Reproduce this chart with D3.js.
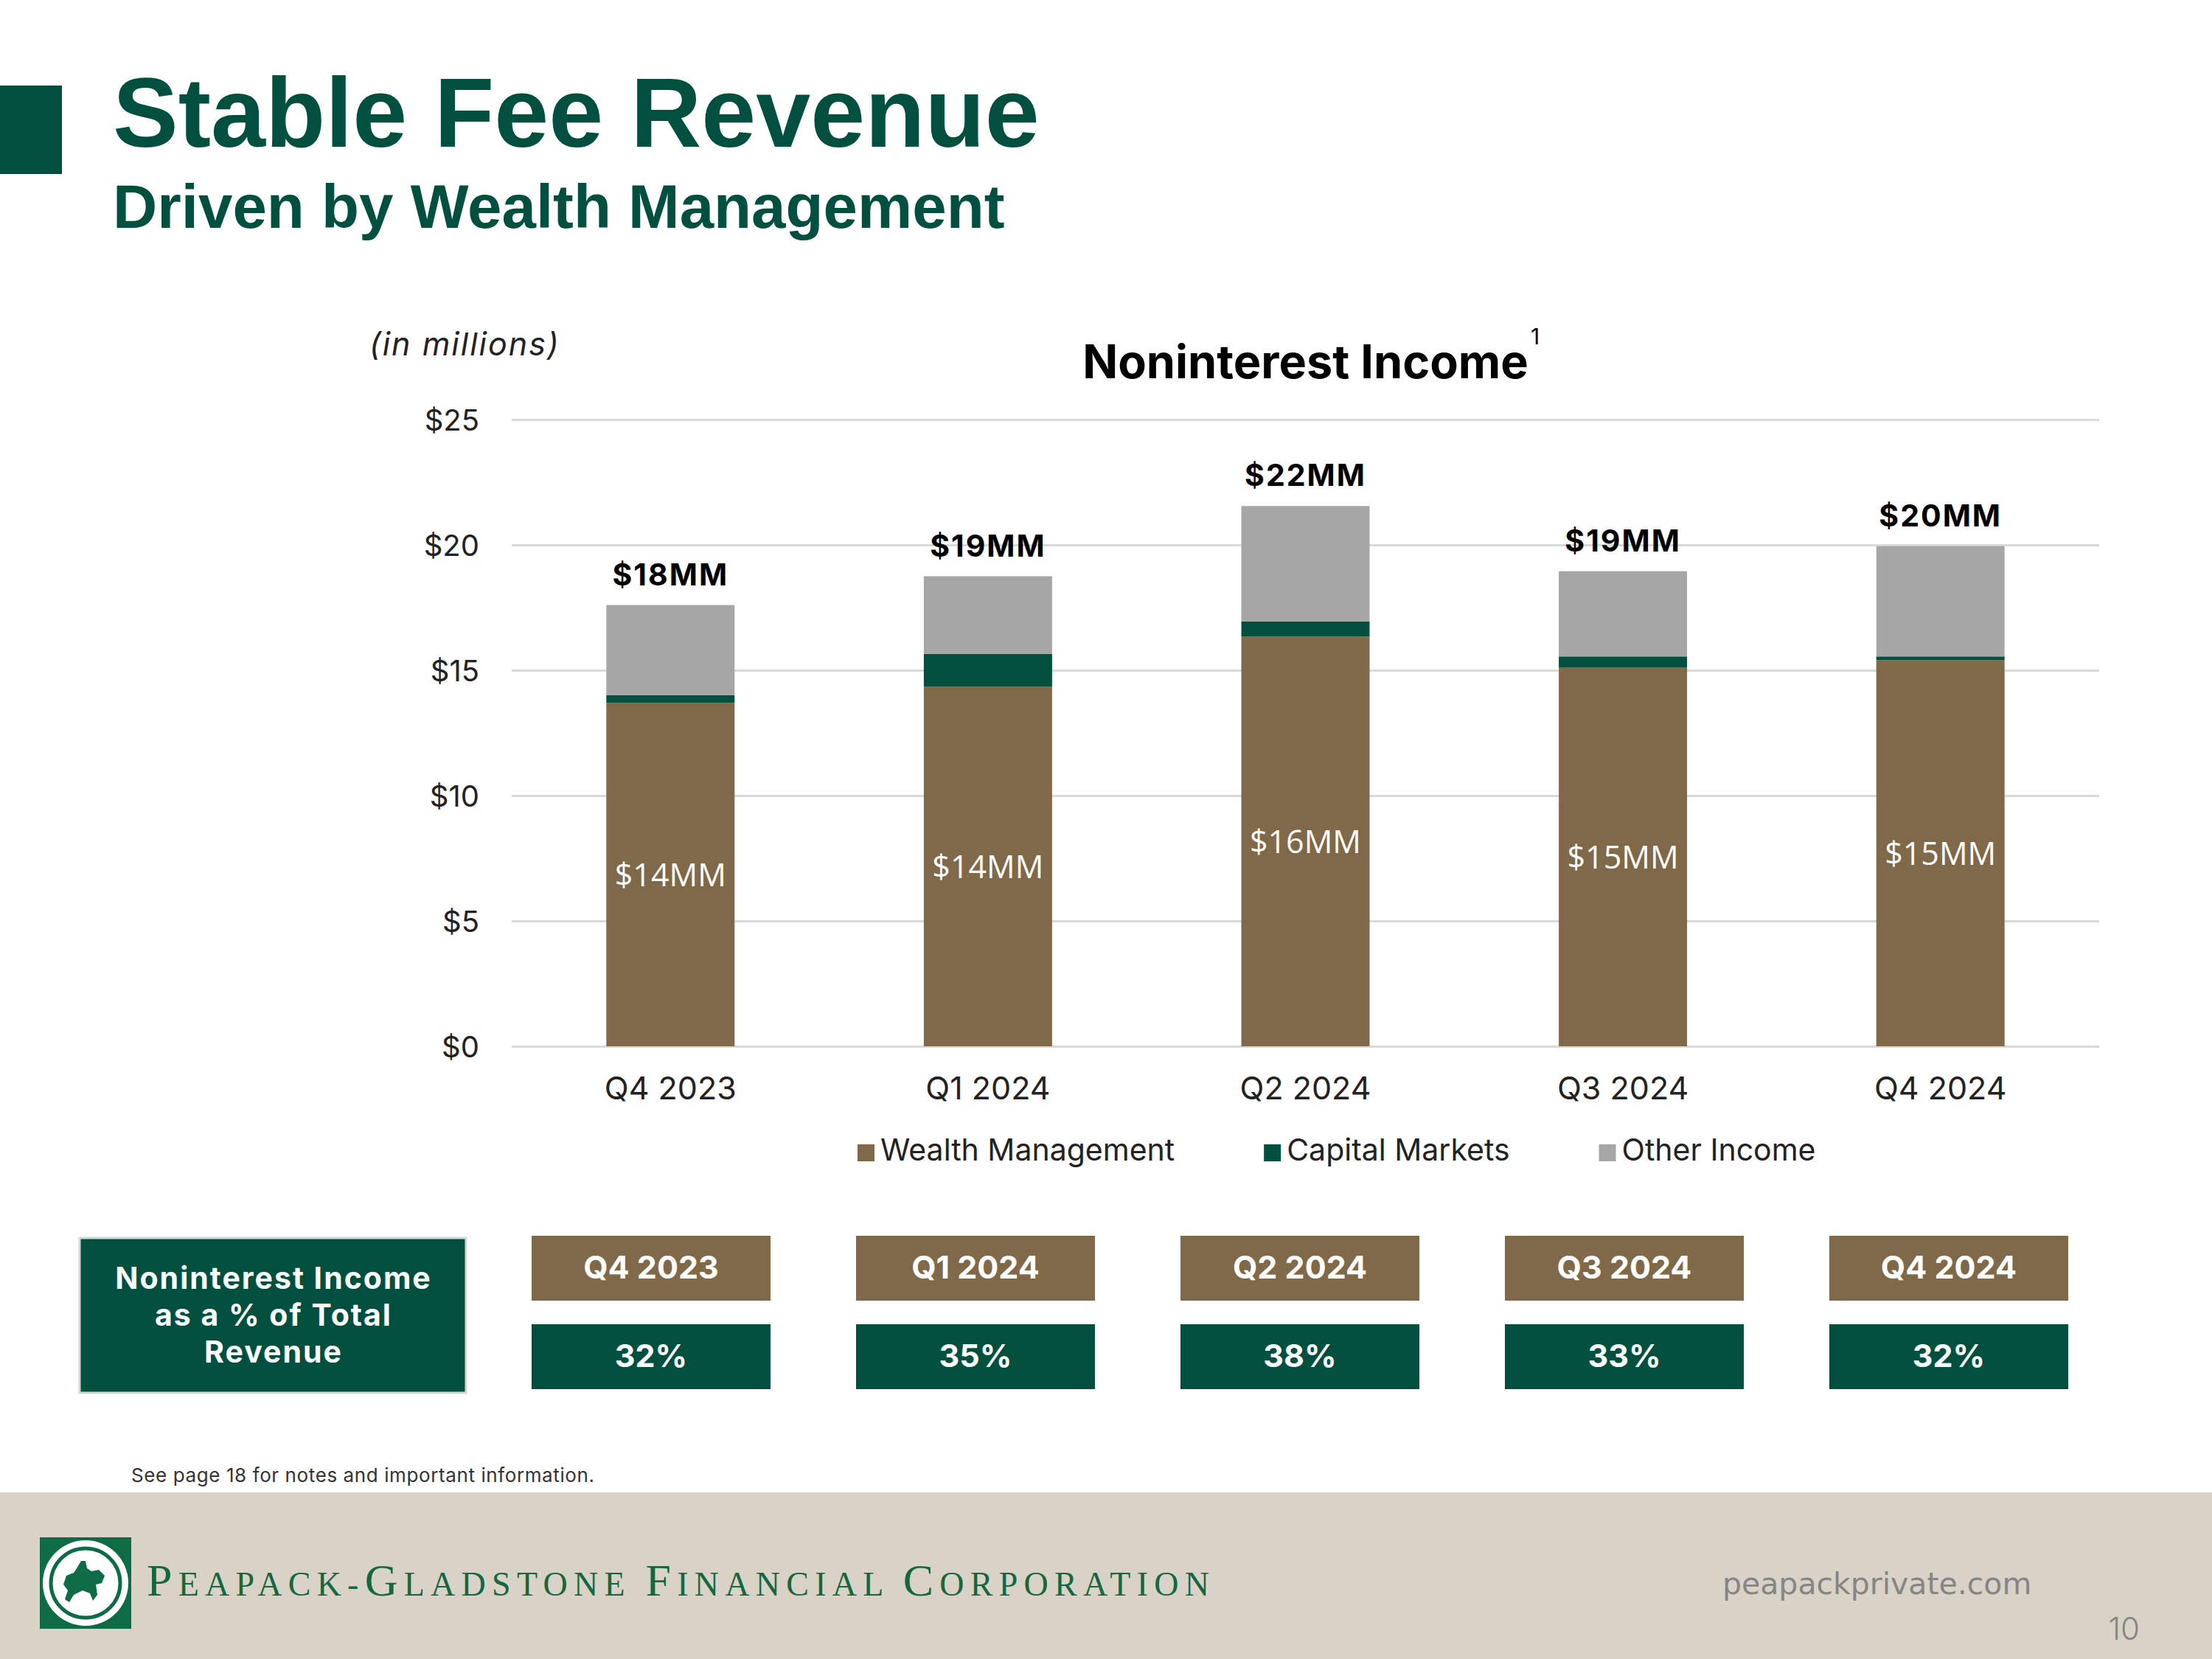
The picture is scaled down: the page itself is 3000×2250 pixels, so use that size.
<!DOCTYPE html>
<html><head><meta charset="utf-8">
<script src="https://cdn.jsdelivr.net/npm/d3@7"></script>
<style>
html,body{margin:0;padding:0;background:#fff;}
svg{display:block;}
</style></head>
<body>
<svg id="chart" width="3000" height="2250"></svg>
<script>
// ---------- data ----------
const quarters = ["Q4 2023", "Q1 2024", "Q2 2024", "Q3 2024", "Q4 2024"];
const seriesNames = ["Wealth Management", "Capital Markets", "Other Income"];
const wealthManagement = [13.7, 14.35, 16.35, 15.1, 15.4];
const capitalMarkets = [0.3, 1.3, 0.6, 0.45, 0.15];
const otherIncome = [3.6, 3.1, 4.6, 3.4, 4.4];
const yTicks = [0, 5, 10, 15, 20, 25];
const pctOfRevenue = [32, 35, 38, 33, 32];
const boxLabelLines = ["Noninterest Income", "as a % of Total", "Revenue"];
const seriesColors = ["#806948", "#01503f", "#a6a6a6"];

const GREEN = "#01503f", BROWN = "#806948";
const SANS = "Inter, 'DejaVu Sans', sans-serif";

const rows = quarters.map((q, i) => ({
  quarter: q,
  "Wealth Management": wealthManagement[i],
  "Capital Markets": capitalMarkets[i],
  "Other Income": otherIncome[i]
}));

const svg = d3.select("#chart");

// ---------- header ----------
svg.append("rect").attr("x", 0).attr("y", 116).attr("width", 84).attr("height", 120).attr("fill", GREEN);
svg.append("text").attr("x", 153).attr("y", 199)
  .attr("font-family", "'Liberation Sans', Arial, sans-serif").attr("font-weight", 700)
  .attr("font-size", 133).attr("fill", GREEN).text("Stable Fee Revenue");
svg.append("text").attr("x", 153).attr("y", 309)
  .attr("font-family", "'Liberation Sans', Arial, sans-serif").attr("font-weight", 700)
  .attr("font-size", 83.5).attr("fill", GREEN).text("Driven by Wealth Management");

// ---------- chart ----------
const x = d3.scaleBand().domain(quarters).range([694, 2847]).paddingInner(0.596).paddingOuter(0.298);
const y = d3.scaleLinear().domain([0, 25]).range([1419, 569]);
const color = d3.scaleOrdinal().domain(seriesNames).range(seriesColors);

// grid
const grid = svg.append("g").attr("transform", "translate(694,0)")
  .call(d3.axisLeft(y).tickValues(yTicks).tickSize(-(2847 - 694)).tickFormat(""));
grid.select(".domain").remove();
grid.selectAll("line").attr("stroke", "#d9d9d9").attr("stroke-width", 3);

// y labels
const yAx = svg.append("g").attr("transform", "translate(650,0)")
  .call(d3.axisLeft(y).tickValues(yTicks).tickSize(0).tickPadding(0).tickFormat(d => "$" + d));
yAx.select(".domain").remove();
yAx.selectAll("text").attr("font-family", SANS).attr("font-size", 40).attr("fill", "#222").attr("dy", "0.36em");

// x labels
const xAx = svg.append("g").attr("transform", "translate(0,1419)")
  .call(d3.axisBottom(x).tickSize(0).tickPadding(41));
xAx.select(".domain").remove();
xAx.selectAll("text").attr("font-family", SANS).attr("font-size", 43).attr("fill", "#222");

// bars
const stacked = d3.stack().keys(seriesNames)(rows);
svg.append("g").selectAll("g").data(stacked).join("g")
  .attr("fill", d => color(d.key))
  .selectAll("rect").data(d => d).join("rect")
  .attr("x", d => x(d.data.quarter))
  .attr("width", x.bandwidth())
  .attr("y", d => y(d[1]))
  .attr("height", d => y(d[0]) - y(d[1]));

// totals
svg.append("g").selectAll("text").data(rows).join("text")
  .attr("x", d => x(d.quarter) + x.bandwidth() / 2)
  .attr("y", d => y(d["Wealth Management"] + d["Capital Markets"] + d["Other Income"]) - 27)
  .attr("text-anchor", "middle").attr("font-family", SANS).attr("font-weight", 700)
  .attr("font-size", 41).attr("letter-spacing", 2).attr("fill", "#000")
  .text(d => "$" + Math.round(d["Wealth Management"] + d["Capital Markets"] + d["Other Income"]) + "MM");

// wealth labels
svg.append("g").selectAll("text").data(rows).join("text")
  .attr("x", d => x(d.quarter) + x.bandwidth() / 2)
  .attr("y", d => (y(0) + y(d["Wealth Management"])) / 2)
  .attr("dy", "0.36em")
  .attr("text-anchor", "middle").attr("font-family", "'Open Sans', sans-serif")
  .attr("font-size", 43).attr("fill", "#fff")
  .text(d => "$" + Math.round(d["Wealth Management"]) + "MM");

// chart title & notes
svg.append("text").attr("x", (694 + 2847) / 2).attr("y", 513).attr("text-anchor", "middle")
  .attr("font-family", SANS).attr("font-weight", 700).attr("font-size", 63).attr("fill", "#000")
  .text("Noninterest Income");
svg.append("text").attr("x", 2076).attr("y", 467).attr("font-family", SANS)
  .attr("font-size", 30).attr("fill", "#000").text("1");
svg.append("text").attr("x", 501).attr("y", 482).attr("font-family", SANS).attr("font-style", "italic")
  .attr("font-size", 43).attr("letter-spacing", 2).attr("fill", "#222").text("(in millions)");

// legend
const leg = svg.append("g");
let lx = 1163;
seriesNames.forEach((name, i) => {
  leg.append("rect").attr("x", lx).attr("y", 1552).attr("width", 23).attr("height", 23).attr("fill", seriesColors[i]);
  const t = leg.append("text").attr("x", lx + 31).attr("y", 1574).attr("font-family", SANS)
    .attr("font-size", 41).attr("fill", "#222").text(name);
  lx += 31 + t.node().getComputedTextLength() + 121;
});

// ---------- table ----------
const tx = d3.scaleBand().domain(quarters).range([721, 2805]).paddingInner(0.2636).paddingOuter(0);
svg.append("rect").attr("x", 108).attr("y", 1679).attr("width", 524).attr("height", 210)
  .attr("fill", GREEN).attr("stroke", "#cfdad7").attr("stroke-width", 3);
svg.append("g").selectAll("text").data(boxLabelLines).join("text")
  .attr("x", 371).attr("y", (d, i) => 1748 + i * 50)
  .attr("text-anchor", "middle").attr("font-family", SANS).attr("font-weight", 700)
  .attr("font-size", 41).attr("letter-spacing", 2).attr("fill", "#fff").text(d => d);

const cols = svg.append("g").selectAll("g").data(quarters).join("g");
cols.append("rect").attr("x", d => tx(d)).attr("y", 1676).attr("width", tx.bandwidth()).attr("height", 88).attr("fill", BROWN);
cols.append("rect").attr("x", d => tx(d)).attr("y", 1796).attr("width", tx.bandwidth()).attr("height", 88).attr("fill", GREEN);
cols.append("text").attr("x", d => tx(d) + tx.bandwidth() / 2).attr("y", 1734)
  .attr("text-anchor", "middle").attr("font-family", SANS).attr("font-weight", 700)
  .attr("font-size", 43).attr("fill", "#fff").text(d => d);
cols.append("text").attr("x", d => tx(d) + tx.bandwidth() / 2).attr("y", 1854)
  .attr("text-anchor", "middle").attr("font-family", SANS).attr("font-weight", 700)
  .attr("font-size", 43).attr("fill", "#fff").text((d, i) => pctOfRevenue[i] + "%");

// ---------- footer ----------
svg.append("text").attr("x", 178).attr("y", 2010).attr("font-family", SANS)
  .attr("font-size", 26).attr("letter-spacing", 0.6).attr("fill", "#333").text("See page 18 for notes and important information.");
svg.append("rect").attr("x", 0).attr("y", 2024).attr("width", 3000).attr("height", 226).attr("fill", "#d9d3c7");

// logo
const LOGO = "#0d6b46";
const logo = svg.append("g");
logo.append("rect").attr("x", 54).attr("y", 2085).attr("width", 124).attr("height", 124).attr("fill", LOGO);
logo.append("circle").attr("cx", 116).attr("cy", 2147).attr("r", 58).attr("fill", "#fff");
logo.append("circle").attr("cx", 116).attr("cy", 2147).attr("r", 47).attr("fill", "none").attr("stroke", LOGO).attr("stroke-width", 5);
logo.append("path").attr("fill", LOGO)
  .attr("d", "M110,2117 l6,0 l2,10 l6,4 l10,-2 l8,8 l-4,10 l-8,2 l2,14 l-6,8 l-4,-10 l-10,-4 l-12,6 l-6,10 l-6,-4 l4,-12 l-6,-8 l4,-12 l10,-4 l4,-6 z");

const comp = svg.append("text").attr("x", 199).attr("y", 2164).attr("font-family", "'Liberation Serif', 'DejaVu Serif', serif")
  .attr("fill", "#15673f").attr("textLength", 1441).attr("lengthAdjust", "spacing");
[["P", 62], ["EAPACK-", 46], ["G", 62], ["LADSTONE ", 46], ["F", 62], ["INANCIAL ", 46], ["C", 62], ["ORPORATION", 46]]
  .forEach(([s, fs]) => comp.append("tspan").attr("font-size", fs).text(s));

svg.append("text").attr("x", 2336).attr("y", 2162).attr("font-family", "'DejaVu Sans', sans-serif")
  .attr("font-size", 41).attr("fill", "#858585").text("peapackprivate.com");
svg.append("text").attr("x", 2902).attr("y", 2224).attr("text-anchor", "end").attr("font-family", SANS)
  .attr("font-size", 42).attr("font-weight", 300).attr("fill", "#858585").text("10");
</script>
</body></html>
